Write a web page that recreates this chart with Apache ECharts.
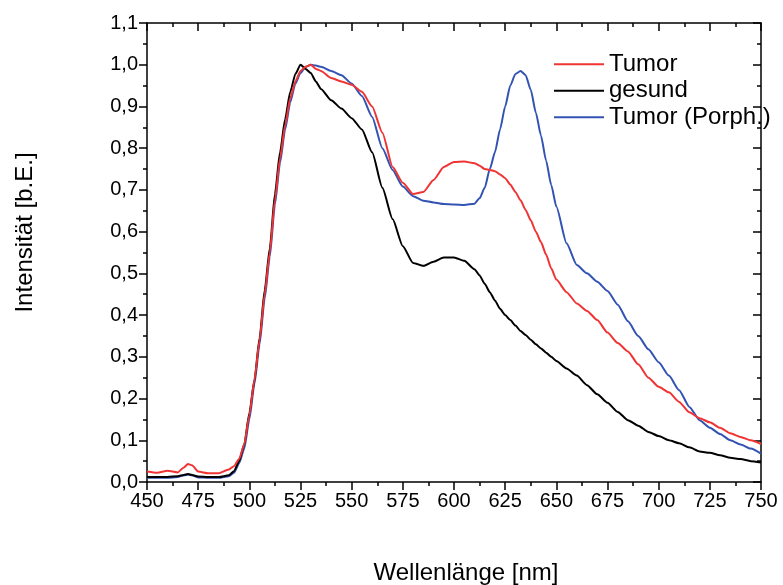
<!DOCTYPE html>
<html>
<head>
<meta charset="utf-8">
<script src="https://cdn.jsdelivr.net/npm/echarts@6/dist/echarts.min.js"></script>
<style>
  * { margin: 0; padding: 0; }
  #chart { width: 783px; height: 585px; background: #fff; }
</style>
</head>
<body>
<div id="chart"></div>
<script>
// wavelengths in nm, shared by all three spectra
const wavelength = [
  450, 455, 460, 465, 468, 470, 472, 475, 480, 485,
  490, 492.5, 495, 497.5, 500, 502.5, 505, 507.5, 510, 512.5,
  515, 517.5, 520, 522.5, 525, 527.5, 530, 532.5, 535, 540,
  545, 550, 555, 560, 565, 570, 575, 580, 585, 590,
  595, 600, 605, 610, 612.5, 615, 617.5, 620, 622.5, 625,
  627.5, 630, 632.5, 635, 637.5, 640, 642.5, 645, 647.5, 650,
  655, 660, 665, 670, 675, 680, 685, 690, 695, 700,
  705, 710, 715, 720, 725, 730, 735, 740, 745, 750
];

const tumor = [
  0.025, 0.022, 0.027, 0.023, 0.035, 0.043, 0.040, 0.025, 0.021, 0.021,
  0.030, 0.038, 0.055, 0.090, 0.160, 0.245, 0.340, 0.450, 0.550, 0.675,
  0.775, 0.855, 0.920, 0.960, 0.985, 0.995, 1.000, 0.990, 0.985, 0.968,
  0.960, 0.952, 0.935, 0.900, 0.837, 0.755, 0.717, 0.690, 0.695, 0.724,
  0.755, 0.767, 0.768, 0.764, 0.758, 0.750, 0.748, 0.745, 0.737, 0.728,
  0.713, 0.695, 0.675, 0.652, 0.627, 0.600, 0.575, 0.545, 0.512, 0.485,
  0.455, 0.428, 0.410, 0.388, 0.358, 0.333, 0.313, 0.282, 0.250, 0.228,
  0.215, 0.192, 0.167, 0.153, 0.143, 0.130, 0.117, 0.108, 0.100, 0.091
];

const gesund = [
  0.012, 0.012, 0.012, 0.014, 0.017, 0.019, 0.017, 0.013, 0.012, 0.012,
  0.016, 0.026, 0.050, 0.090, 0.165, 0.245, 0.345, 0.460, 0.560, 0.690,
  0.790, 0.870, 0.935, 0.978, 1.000, 0.990, 0.980, 0.960, 0.942, 0.915,
  0.895, 0.872, 0.845, 0.790, 0.705, 0.630, 0.565, 0.525, 0.518, 0.528,
  0.538, 0.538, 0.530, 0.510, 0.495, 0.475, 0.455, 0.435, 0.415, 0.400,
  0.388, 0.375, 0.362, 0.352, 0.341, 0.330, 0.320, 0.310, 0.300, 0.290,
  0.272, 0.255, 0.232, 0.210, 0.190, 0.168, 0.148, 0.135, 0.120, 0.110,
  0.100, 0.093, 0.083, 0.073, 0.070, 0.064, 0.058, 0.055, 0.050, 0.047
];

const porph = [
  0.010, 0.010, 0.010, 0.012, 0.016, 0.018, 0.016, 0.011, 0.010, 0.010,
  0.014, 0.022, 0.045, 0.080, 0.150, 0.235, 0.330, 0.440, 0.540, 0.665,
  0.765, 0.845, 0.910, 0.955, 0.980, 0.995, 1.000, 0.998, 0.995, 0.985,
  0.975, 0.955, 0.925, 0.875, 0.800, 0.748, 0.708, 0.685, 0.674, 0.670,
  0.666, 0.665, 0.664, 0.667, 0.680, 0.705, 0.750, 0.790, 0.845, 0.900,
  0.950, 0.978, 0.985, 0.975, 0.940, 0.885, 0.830, 0.770, 0.712, 0.660,
  0.572, 0.520, 0.500, 0.480, 0.458, 0.425, 0.385, 0.350, 0.318, 0.287,
  0.255, 0.220, 0.180, 0.148, 0.130, 0.115, 0.100, 0.090, 0.080, 0.068
];

const seriesNames = ["Tumor", "gesund", "Tumor (Porph.)"];
const seriesColors = ["#f03434", "#000000", "#3353b3"];

const chart = echarts.init(document.getElementById("chart"), null, { renderer: "canvas" });

const font = "Liberation Sans, Arial, sans-serif";
const comma = (v) => v.toFixed(1).replace(".", ",");
const pairs = (vals) => wavelength.map((w, i) => [w, vals[i]]);

const axisLine = { show: true, onZero: false, lineStyle: { color: "#000", width: 1.5 } };
const tickStyle = { color: "#000", width: 1.5 };

const option = {
  animation: false,
  grid: { left: 147, right: 22, top: 23, bottom: 103, outerBoundsMode: "none" },
  legend: {
    orient: "vertical",
    left: 549,
    top: 46,
    itemWidth: 50,
    itemHeight: 2,
    itemGap: 0,
    icon: "rect",
    textStyle: { fontFamily: font, fontSize: 24, color: "#000", lineHeight: 26.5 },
    data: seriesNames
  },
  xAxis: [
    {
      type: "value",
      min: 450, max: 750, interval: 25,
      name: "Wellenlänge [nm]",
      nameLocation: "middle",
      nameGap: 79,
      nameTextStyle: { fontFamily: font, fontSize: 24, color: "#000", padding: [0, 0, 0, 24] },
      axisLine: axisLine,
      axisTick: { show: true, inside: false, length: 8, lineStyle: tickStyle },
      minorTick: { show: true, splitNumber: 2, length: 4, lineStyle: tickStyle },
      axisLabel: { fontFamily: font, fontSize: 20, color: "#000", margin: 9 },
      splitLine: { show: false }
    },
    {
      type: "value",
      position: "top",
      min: 450, max: 750, interval: 25,
      axisLine: axisLine,
      axisTick: { show: true, inside: true, length: 8, lineStyle: tickStyle },
      minorTick: { show: true, splitNumber: 2, length: 4, lineStyle: tickStyle },
      axisLabel: { show: false },
      splitLine: { show: false }
    }
  ],
  yAxis: [
    {
      type: "value",
      min: 0, max: 1.1, interval: 0.1,
      name: "Intensität [b.E.]",
      nameLocation: "middle",
      nameGap: 110,
      nameTextStyle: { fontFamily: font, fontSize: 24, color: "#000", padding: [0, 0, 0, 40] },
      axisLine: axisLine,
      axisTick: { show: true, inside: false, length: 8, lineStyle: tickStyle },
      minorTick: { show: true, splitNumber: 2, length: 4, lineStyle: tickStyle },
      axisLabel: { fontFamily: font, fontSize: 20, color: "#000", margin: 9, formatter: comma },
      splitLine: { show: false }
    },
    {
      type: "value",
      position: "right",
      min: 0, max: 1.1, interval: 0.1,
      axisLine: axisLine,
      axisTick: { show: true, inside: true, length: 8, lineStyle: tickStyle },
      minorTick: { show: true, splitNumber: 2, length: 4, lineStyle: tickStyle },
      axisLabel: { show: false },
      splitLine: { show: false }
    }
  ],
  series: [tumor, gesund, porph].map((vals, i) => ({
    name: seriesNames[i],
    type: "line",
    xAxisIndex: 0,
    yAxisIndex: 0,
    data: pairs(vals),
    symbol: "none",
    smooth: 0.2,
    smoothMonotone: "x",
    color: seriesColors[i],
    lineStyle: { width: 2, color: seriesColors[i] },
    emphasis: { disabled: true },
    z: 3 - i
  }))
};

chart.setOption(option);
</script>
</body>
</html>
